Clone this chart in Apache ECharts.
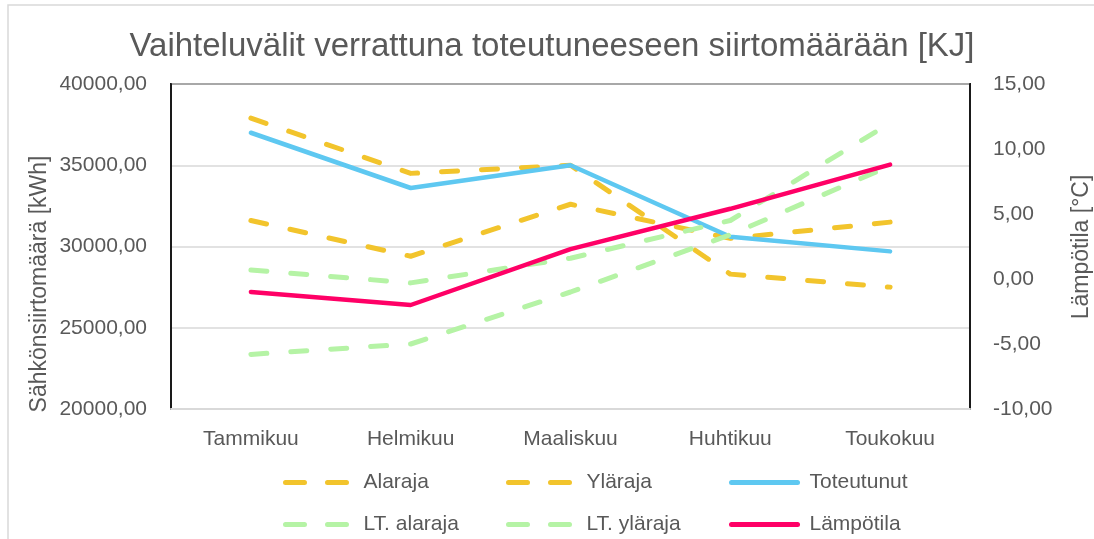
<!DOCTYPE html>
<html>
<head>
<meta charset="utf-8">
<script src="https://cdn.jsdelivr.net/npm/echarts@6/dist/echarts.min.js"></script>
<style>
  html, body { margin: 0; padding: 0; background: #fff; }
  #chart { width: 1094px; height: 539px; }
</style>
</head>
<body>
<div id="chart"></div>
<script>
// kuukaudet
var categories = ["Tammikuu", "Helmikuu", "Maaliskuu", "Huhtikuu", "Toukokuu"];
// siirtomäärä [kWh]
var alaraja = [31600, 29400, 32600, 30500, 31500];
var ylaraja = [37900, 34500, 35000, 28300, 27500];
var toteutunut = [37000, 33600, 35000, 30600, 29700];
// lämpötila [°C]
var ltAlaraja = [-5.8, -5.0, -1.0, 3.4, 8.7];
var ltYlaraja = [0.7, -0.3, 1.6, 4.5, 12.0];
var lampotila = [-1.0, -2.0, 2.3, 5.4, 8.8];

var txt = "#595959";
var font = "'Liberation Sans', Arial, sans-serif";
var dash = [16, 24];

function fmt(v) {
  return v.toFixed(2).replace(".", ",");
}

function line(name, data, color, axis, dashed) {
  return {
    name: name,
    type: "line",
    yAxisIndex: axis,
    data: data,
    symbol: "none",
    showSymbol: false,
    lineStyle: {
      color: color,
      width: dashed ? 5 : 4.5,
      type: dashed ? dash : "solid",
      cap: "round",
      join: "round"
    },
    itemStyle: { color: color }
  };
}

// yksi legenda per sarja, niin sarakkeet pysyvät kohdallaan
function legendItem(name, left, top, dashed) {
  return {
    data: [name],
    left: left,
    top: top,
    padding: 0,
    itemWidth: 66,
    itemHeight: 12,
    itemGap: 0,
    itemStyle: { color: "rgba(0,0,0,0)", borderWidth: 0 },
    lineStyle: { width: 5, type: dashed ? [19, 23] : "solid" },
    textStyle: {
      color: txt,
      fontFamily: font,
      fontSize: 21,
      padding: [0, 0, 0, 7]
    }
  };
}

var myChart = echarts.init(document.getElementById("chart"));
myChart.setOption({
  animation: false,
  backgroundColor: "#fff",
  title: {
    text: "Vaihteluvälit verrattuna toteutuneeseen siirtomäärään [KJ]",
    left: 552,
    top: 30,
    padding: 0,
    textAlign: "center",
    textStyle: {
      color: txt,
      fontFamily: font,
      fontSize: 33,
      fontWeight: "normal"
    }
  },
  legend: [
    legendItem("Alaraja", 283, 472, true),
    legendItem("Yläraja", 506, 472, true),
    legendItem("Toteutunut", 729, 472, false),
    legendItem("LT. alaraja", 283, 514, true),
    legendItem("LT. yläraja", 506, 514, true),
    legendItem("Lämpötila", 729, 514, false)
  ],
  grid: {
    left: 171,
    right: 124,
    top: 84,
    bottom: 130,
    show: true,
    borderColor: "#1a1a1a",
    borderWidth: 2
  },
  xAxis: {
    type: "category",
    data: categories,
    boundaryGap: true,
    axisTick: { show: false },
    axisLine: { onZero: false, lineStyle: { color: "#d9d9d9", width: 2 } },
    axisLabel: {
      color: txt,
      fontFamily: font,
      fontSize: 21,
      margin: 20
    }
  },
  yAxis: [
    {
      type: "value",
      min: 20000,
      max: 40000,
      interval: 5000,
      axisLine: { show: true, lineStyle: { color: "#1a1a1a", width: 2 } },
      axisTick: { show: false },
      splitLine: { lineStyle: { color: "#d9d9d9", width: 1.5 } },
      axisLabel: {
        color: txt,
        fontFamily: font,
        fontSize: 21,
        margin: 24,
        formatter: fmt
      }
    },
    {
      type: "value",
      min: -10,
      max: 15,
      interval: 5,
      position: "right",
      axisLine: { show: true, lineStyle: { color: "#1a1a1a", width: 2 } },
      axisTick: { show: false },
      splitLine: { show: false },
      axisLabel: {
        color: txt,
        fontFamily: font,
        fontSize: 21,
        margin: 23,
        formatter: fmt
      }
    }
  ],
  graphic: [
    {
      type: "rect",
      shape: { x: 8, y: 5, width: 1200, height: 700 },
      style: { fill: "none", stroke: "#d9d9d9", lineWidth: 1.5 },
      silent: true,
      z: -1
    },
    {
      type: "text",
      x: 40,
      y: 284,
      rotation: Math.PI / 2,
      style: {
        text: "Sähkönsiirtomäärä [kWh]",
        fill: txt,
        font: "23px " + font,
        align: "center",
        verticalAlign: "middle"
      }
    },
    {
      type: "text",
      x: 1082,
      y: 247,
      rotation: Math.PI / 2,
      style: {
        text: "Lämpötila [°C]",
        fill: txt,
        font: "23px " + font,
        align: "center",
        verticalAlign: "middle"
      }
    }
  ],
  series: [
    line("Alaraja", alaraja, "#f2c42c", 0, true),
    line("Yläraja", ylaraja, "#f2c42c", 0, true),
    line("Toteutunut", toteutunut, "#5ec8f1", 0, false),
    line("LT. alaraja", ltAlaraja, "#b5f3a5", 1, true),
    line("LT. yläraja", ltYlaraja, "#b5f3a5", 1, true),
    line("Lämpötila", lampotila, "#ff0066", 1, false)
  ]
});
</script>
</body>
</html>
